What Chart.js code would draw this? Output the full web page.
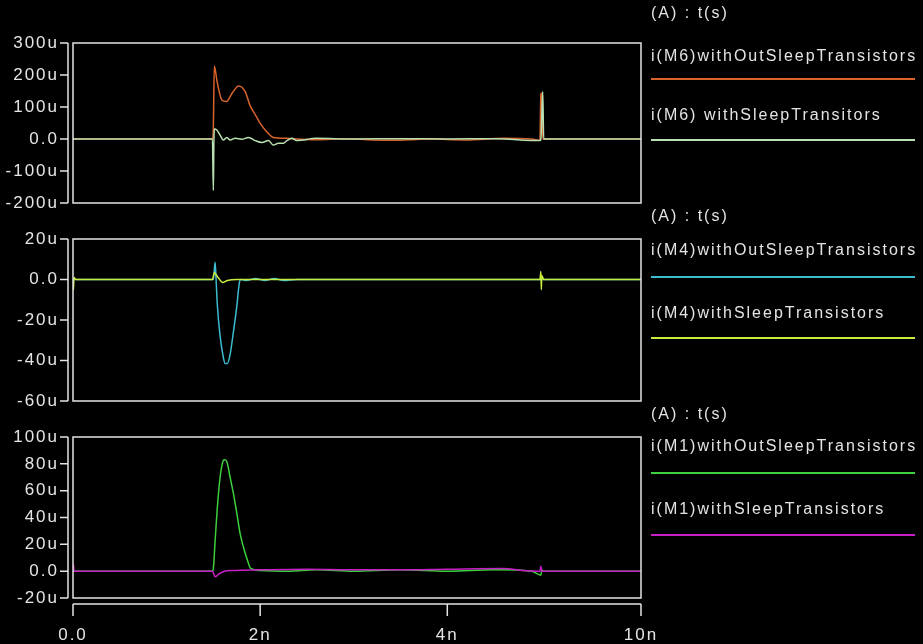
<!DOCTYPE html>
<html>
<head>
<meta charset="utf-8">
<script src="https://cdn.jsdelivr.net/npm/chart.js@4"></script>
<style>
  html, body { margin: 0; padding: 0; background: #000; }
  #wrap { position: relative; width: 923px; height: 644px; background: #000; }
  #wrap canvas { position: absolute; left: 0; top: 0; }
</style>
</head>
<body>
<div id="wrap">
  <canvas id="c1" width="923" height="644"></canvas>
  <canvas id="c2" width="923" height="644"></canvas>
  <canvas id="c3" width="923" height="644"></canvas>
</div>
<script>
// time axis (ns) and its labels
const xTicks = [0, 2, 4, 6.07];
const xTickLabels = ['0.0', '2n', '4n', '10n'];

// panel 1 : i(M6), values in uA
const m6OutT = [0, 1.49, 1.50, 1.51, 1.54, 1.59, 1.64, 1.70, 1.77, 1.84, 1.89, 1.95, 2.00, 2.07, 2.14, 2.28, 2.40, 2.60, 2.90, 3.20, 3.40, 3.60, 3.80, 4.20, 4.60, 4.90, 4.99, 5.00, 5.01, 5.02, 5.05, 6.07];
const m6OutI = [0, 0, 40, 228, 179, 122, 117, 143, 166, 148, 106, 75, 49, 23, 5, 2, 0, -2, 1, -3, -4, -2, 0, -3, 2, 0, -4, 140, 143, 0, 0, 0];
const m6WithT = [0, 1.49, 1.50, 1.505, 1.51, 1.537, 1.572, 1.607, 1.644, 1.679, 1.733, 1.804, 1.875, 1.947, 2.018, 2.089, 2.142, 2.196, 2.249, 2.286, 2.339, 2.39, 2.6, 3.0, 3.5, 4.0, 4.5, 4.99, 5.00, 5.02, 5.03, 6.07];
const m6WithI = [0, 0, -161, -20, 31, 28, 12, -3, 5, -3, 2, -1, 5, -5, -11, -5, -19, -13, -13, -5, 2, -5, 2, 0, 1, 0, 1, -5, 0, 148, 0, 0];

// panel 2 : i(M4)
const m4OutT = [0, 1.50, 1.519, 1.529, 1.543, 1.572, 1.601, 1.626, 1.650, 1.679, 1.714, 1.751, 1.778, 1.794, 1.85, 1.95, 2.05, 2.15, 2.25, 2.4, 6.07];
const m4OutI = [0, 0, 8.5, 0, -13, -28, -37, -41.5, -41.5, -37, -26, -13, -1.6, 0, -0.5, 0.5, -0.5, 0.5, -0.5, 0, 0];
const m4WithT = [0, 0.005, 0.01, 0.03, 1.49, 1.51, 1.55, 1.60, 1.65, 1.75, 4.99, 5.00, 5.005, 5.01, 5.03, 6.07];
const m4WithI = [0, -5, 1, 0, 0, 3.3, 1, -1.5, -0.5, 0, 0, 4, -5, 2, 0, 0];

// panel 3 : i(M1)
const m1OutT = [0, 1.49, 1.50, 1.519, 1.543, 1.572, 1.601, 1.618, 1.644, 1.679, 1.714, 1.751, 1.786, 1.821, 1.858, 1.90, 2.0, 2.3, 2.6, 3.0, 3.5, 4.0, 4.5, 4.9, 5.0, 5.01, 5.02, 6.07];
const m1OutI = [0, 0, 2, 23, 48, 70, 81.6, 83, 81.6, 70, 58, 43, 28, 18, 9.5, 2, 0.5, 0, 1, 0, 1, 0, 1, 0, -3, 1, 0, 0];
const m1WithT = [0, 0.005, 0.01, 1.49, 1.52, 1.56, 1.62, 1.7, 2.0, 2.5, 3.0, 3.5, 4.0, 4.6, 4.8, 4.99, 5.0, 5.01, 5.03, 6.07];
const m1WithI = [0, 5, 0, 0, -4.2, -2, 0, 0.5, 1, 1.5, 1, 1, 1.5, 2, 0.5, 0, 3.7, 0, 0, 0];

const pts = (t, v) => t.map((x, i) => ({ x: x, y: v[i] }));
const FG = '#e4e4e4';

// frame, detached axes and the legend at the right
const framePlugin = {
  id: 'frame',
  beforeDraw(chart) {
    chart.ctx.letterSpacing = '2px';
  },
  afterDraw(chart, args, opts) {
    const { ctx, chartArea: a, scales } = chart;
    ctx.save();
    ctx.strokeStyle = FG;
    ctx.lineWidth = 1.5;
    ctx.strokeRect(a.left, a.top, a.right - a.left, a.bottom - a.top);

    const y = scales.y;
    const ax = a.left - 5;
    ctx.beginPath();
    ctx.moveTo(ax, y.getPixelForValue(y.max));
    ctx.lineTo(ax, y.getPixelForValue(y.min));
    y.ticks.forEach(t => {
      const py = y.getPixelForValue(t.value);
      ctx.moveTo(ax - 8, py);
      ctx.lineTo(ax, py);
    });
    if (opts.xAxis) {
      const x = scales.x;
      const ay = a.bottom + 6;
      ctx.moveTo(x.getPixelForValue(x.min), ay);
      ctx.lineTo(x.getPixelForValue(x.max), ay);
      x.ticks.forEach(t => {
        const px = x.getPixelForValue(t.value);
        ctx.moveTo(px, ay);
        ctx.lineTo(px, ay + 12);
      });
    }
    ctx.stroke();

    // legend
    ctx.letterSpacing = '2px';
    ctx.font = '16px "Liberation Sans", Arial, sans-serif';
    ctx.fillStyle = FG;
    ctx.textAlign = 'left';
    ctx.textBaseline = 'middle';
    ctx.fillText('(A) : t(s)', 651, opts.headerY);
    chart.data.datasets.forEach((ds, i) => {
      ctx.fillStyle = FG;
      ctx.fillText(ds.label, 651, opts.textY[i]);
      ctx.strokeStyle = ds.borderColor;
      ctx.lineWidth = 2;
      ctx.beginPath();
      ctx.moveTo(651, opts.lineY[i]);
      ctx.lineTo(915, opts.lineY[i]);
      ctx.stroke();
    });
    ctx.restore();
  }
};

function makeChart(id, datasets, yMin, yMax, yStep, top, bottom, showX, legend) {
  return new Chart(document.getElementById(id), {
    type: 'line',
    data: { datasets: datasets },
    plugins: [framePlugin],
    options: {
      responsive: false,
      animation: false,
      devicePixelRatio: 1,
      layout: { padding: { left: 0, top: top, right: 923 - 641, bottom: showX ? 0 : 644 - bottom } },
      elements: { point: { radius: 0 }, line: { borderWidth: 1.5, cubicInterpolationMode: 'monotone' } },
      plugins: {
        legend: { display: false },
        tooltip: { enabled: false },
        frame: Object.assign({ xAxis: showX }, legend)
      },
      scales: {
        x: {
          type: 'linear',
          display: showX,
          min: 0,
          max: 6.07,
          afterBuildTicks: s => { s.ticks = xTicks.map(v => ({ value: v })); },
          afterFit: s => { s.height = showX ? 644 - bottom : 0; },
          grid: { display: false, drawTicks: false },
          border: { display: false },
          ticks: {
            color: FG,
            font: { family: '"Liberation Sans", Arial, sans-serif', size: 17 },
            padding: 27,
            maxRotation: 0,
            autoSkip: false,
            callback: (v, i) => xTickLabels[i]
          }
        },
        y: {
          min: yMin,
          max: yMax,
          afterFit: s => { s.width = 73; },
          grid: { display: false, drawTicks: false },
          border: { display: false },
          ticks: {
            stepSize: yStep,
            color: FG,
            font: { family: '"Liberation Sans", Arial, sans-serif', size: 17 },
            padding: 14,
            callback: v => v === 0 ? '0.0' : v + 'u'
          }
        }
      }
    }
  });
}

// the "with sleep transistors" trace is drawn on top (order 0)
makeChart('c1', [
  { label: 'i(M6)withOutSleepTransistors', data: pts(m6OutT, m6OutI), borderColor: '#d8642c', order: 1 },
  { label: 'i(M6) withSleepTransitors', data: pts(m6WithT, m6WithI), borderColor: '#b8e0b0', order: 0 }
], -200, 300, 100, 43, 203, false,
  { headerY: 14, textY: [57, 116], lineY: [79, 140] });

makeChart('c2', [
  { label: 'i(M4)withOutSleepTransistors', data: pts(m4OutT, m4OutI), borderColor: '#3cbcd0', order: 1 },
  { label: 'i(M4)withSleepTransistors', data: pts(m4WithT, m4WithI), borderColor: '#c8ec3c', order: 0 }
], -60, 20, 20, 239, 401, false,
  { headerY: 217, textY: [251, 314], lineY: [277, 338] });

makeChart('c3', [
  { label: 'i(M1)withOutSleepTransistors', data: pts(m1OutT, m1OutI), borderColor: '#3cd03c', order: 1 },
  { label: 'i(M1)withSleepTransistors', data: pts(m1WithT, m1WithI), borderColor: '#c81ec8', order: 0 }
], -20, 100, 20, 437, 598, true,
  { headerY: 415, textY: [447, 510], lineY: [473, 535] });
</script>
</body>
</html>
